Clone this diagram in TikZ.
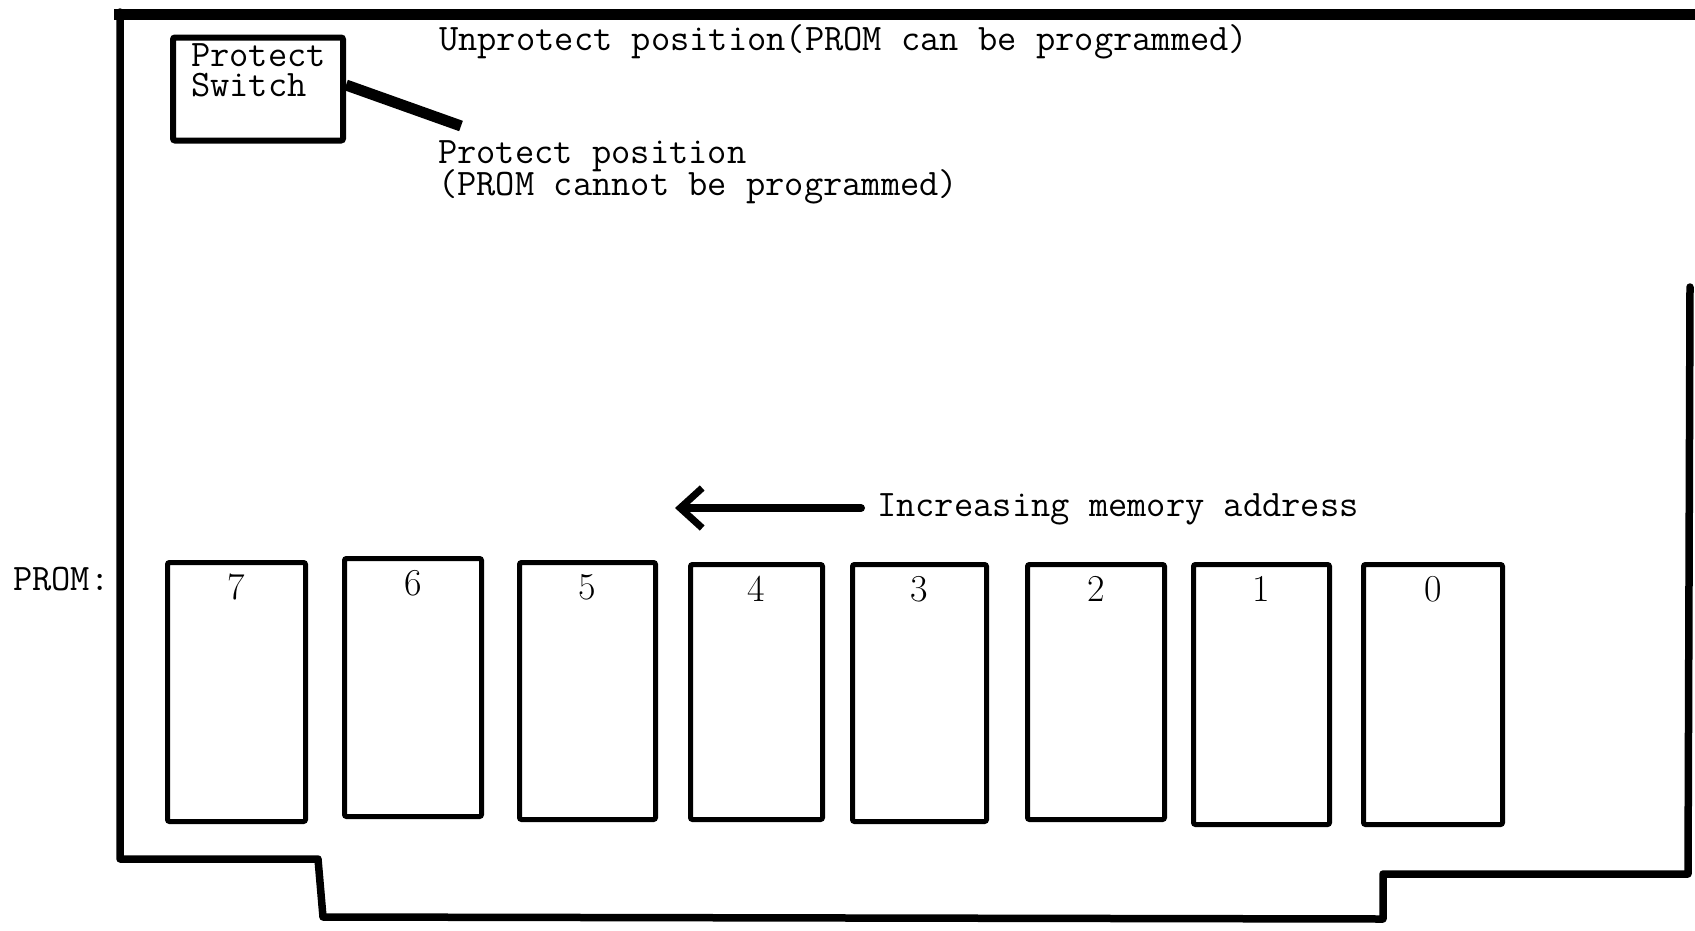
\documentclass[tikz,border=0pt]{standalone}
\usepackage{fontspec}
\usetikzlibrary{arrows.meta,calc}
\tikzset{
  board/.style={line width=7.5pt, line join=round, line cap=round},
  topedge/.style={line width=11pt, line cap=butt},
  chip/.style={draw, line width=5pt, rounded corners=2pt, inner sep=0pt},
  swbox/.style={draw, line width=6pt, rounded corners=2pt, inner sep=0pt, minimum width=170pt, minimum height=103pt},
  lever/.style={line width=11pt, line cap=butt},
  addrarrow/.style={line width=8pt, line cap=round, -{Straight Barb[length=22pt, width=40pt, line width=7pt]}},
  lbl/.style={font=\ttfamily\fontsize{37.4}{37.4}\selectfont, inner sep=0pt, text height=22pt, text depth=6pt},
  dig/.style={font=\fontsize{38}{38}\selectfont, inner sep=0pt}
}
\begin{document}
\begin{tikzpicture}[x=1pt, y=-1pt]
\useasboundingbox (0,0) rectangle (1695,930);
\fill[white] (0,0) rectangle (1695,930);

% board outline
\draw[topedge] (114,14) -- (1700,14);
\draw[board] (120,12) -- (120,859) -- (318,859) -- (323,917) -- (1383,919) -- (1383,874) -- (1688,874) -- (1690,287);

% protect switch
\node[swbox] (sw) at (258,89) {};
\node[lbl, anchor=base west] (swt1) at (191,66) {Protect};
\node[lbl, anchor=base west] (swt2) at (191,96) {Switch};
\coordinate (levend) at (461,126);
\draw[lever] ($(sw.east)+(0,-4)$) -- (levend);

% position labels
\node[lbl, anchor=base west] (unprot) at (439,50) {Unprotect position(PROM can be programmed)};
\node[lbl, anchor=base west] (prot1) at (438,163) {Protect position};
\node[lbl, anchor=base west] (prot2) at (438,195) {(PROM cannot be programmed)};

% address arrow
\node[lbl, anchor=base west] (incr) at (877,516) {Increasing memory address};
\coordinate (arrtip) at ([xshift=-202pt]incr.west);
\draw[addrarrow] ([xshift=-16pt]incr.west) -- (arrtip);

% PROM label
\node[lbl, anchor=base west] (promlbl) at (13,590) {PROM:};

% PROM sockets
\node[chip, minimum width=138pt, minimum height=259pt] (p7) at (236.5,692) {};
\node[chip, minimum width=137pt, minimum height=258pt] (p6) at (413,687.5) {};
\node[chip, minimum width=136pt, minimum height=257pt] (p5) at (587.5,691) {};
\node[chip, minimum width=132pt, minimum height=255pt] (p4) at (756.5,692) {};
\node[chip, minimum width=134pt, minimum height=257pt] (p3) at (919.5,693) {};
\node[chip, minimum width=137pt, minimum height=255pt] (p2) at (1096,692) {};
\node[chip, minimum width=136pt, minimum height=260pt] (p1) at (1261.5,694.5) {};
\node[chip, minimum width=139pt, minimum height=260pt] (p0) at (1433,694.5) {};

\foreach \n in {7,6,5,4,3,2,1,0}
  \node[dig] (d\n) at ($(p\n.north)+(0,27)$) {\n};
\end{tikzpicture}
\end{document}
